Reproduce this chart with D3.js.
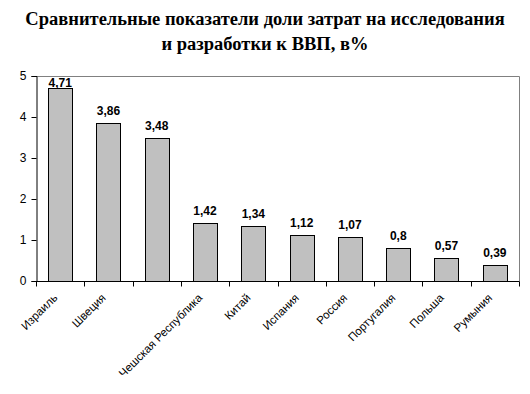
<!DOCTYPE html>
<html>
<head>
<meta charset="utf-8">
<script src="https://cdn.jsdelivr.net/npm/d3@7"></script>
<style>
  body { margin: 0; background: #fff; }
  svg { display: block; }
</style>
</head>
<body>
<div id="chart"></div>
<script>
  "use strict";

  var titleLines = ['Сравнительные показатели доли затрат на исследования', 'и разработки к ВВП, в%'];
  var categories = ['Израиль', 'Швеция', '', 'Чешская Республика', 'Китай', 'Испания', 'Россия', 'Португалия', 'Польша', 'Румыния'];
  var values = [4.71, 3.86, 3.48, 1.42, 1.34, 1.12, 1.07, 0.8, 0.57, 0.39];
  var valueLabels = ['4,71', '3,86', '3,48', '1,42', '1,34', '1,12', '1,07', '0,8', '0,57', '0,39'];
  var yTicks = [0, 1, 2, 3, 4, 5];

  var width = 530, height = 394;
  var margin = {top: 76, right: 11, bottom: 113, left: 36};
  var innerW = width - margin.left - margin.right;
  var innerH = height - margin.top - margin.bottom;

  var svg = d3.select('#chart').append('svg')
    .attr('width', width)
    .attr('height', height);

  // title
  svg.append('g').selectAll('text')
    .data(titleLines)
    .enter().append('text')
    .attr('x', width / 2)
    .attr('y', function(d, i) { return 25 + i * 25; })
    .attr('text-anchor', 'middle')
    .attr('font-family', '"Liberation Serif", "Times New Roman", serif')
    .attr('font-weight', 'bold')
    .attr('font-size', '18.5px')
    .attr('fill', '#000')
    .text(function(d) { return d; });

  var g = svg.append('g')
    .attr('transform', 'translate(' + margin.left + ',' + margin.top + ')');

  var x = d3.scaleBand().domain(d3.range(categories.length)).range([0, innerW]);
  var y = d3.scaleLinear().domain([0, 5]).range([innerH, 0]);

  // plot frame: grey top and right
  g.append('path')
    .attr('d', 'M0,0.5H' + (innerW + 0.5) + 'V' + innerH)
    .attr('fill', 'none')
    .attr('stroke', '#808080')
    .attr('stroke-width', 1);

  // bars
  var bw = x.bandwidth() * 0.5;
  g.selectAll('rect.bar')
    .data(values)
    .enter().append('rect')
    .attr('class', 'bar')
    .attr('x', function(d, i) { return Math.round(x(i) + (x.bandwidth() - bw) / 2) + 0.5; })
    .attr('y', function(d) { return Math.round(y(d)) + 0.5; })
    .attr('width', Math.round(bw))
    .attr('height', function(d) { return Math.round(innerH - y(d)); })
    .attr('fill', '#c0c0c0')
    .attr('stroke', '#000')
    .attr('stroke-width', 1);

  // value labels
  g.selectAll('text.val')
    .data(values)
    .enter().append('text')
    .attr('class', 'val')
    .attr('x', function(d, i) { return x(i) + x.bandwidth() / 2; })
    .attr('y', function(d) { return Math.max(y(d) - 8, 11); })
    .attr('text-anchor', 'middle')
    .attr('font-family', '"Liberation Sans", Arial, sans-serif')
    .attr('font-weight', 'bold')
    .attr('font-size', '12px')
    .attr('fill', '#000')
    .text(function(d, i) { return valueLabels[i]; });

  // y axis
  var yAxis = g.append('g')
    .attr('transform', 'translate(0.5,0)')
    .call(d3.axisLeft(y).tickValues(yTicks).tickSize(5).tickPadding(5).tickFormat(d3.format('d')));
  yAxis.select('.domain').attr('stroke', '#000');
  yAxis.selectAll('text')
    .attr('font-family', '"Liberation Sans", Arial, sans-serif')
    .attr('font-size', '12px')
    .attr('fill', '#000');

  // x axis: ticks at category boundaries
  var boundaries = d3.range(categories.length + 1).map(function(i) { return i * x.step(); });
  var xAxisG = g.append('g')
    .attr('transform', 'translate(0,' + (innerH + 0.5) + ')');
  xAxisG.append('line')
    .attr('x1', 0).attr('x2', innerW + 0.5)
    .attr('stroke', '#000');
  xAxisG.selectAll('line.tick')
    .data(boundaries)
    .enter().append('line')
    .attr('class', 'tick')
    .attr('x1', function(d) { return Math.round(d) + 0.5; })
    .attr('x2', function(d) { return Math.round(d) + 0.5; })
    .attr('y1', 0).attr('y2', 5)
    .attr('stroke', '#000');

  // rotated category labels
  xAxisG.selectAll('text.cat')
    .data(categories)
    .enter().append('text')
    .attr('class', 'cat')
    .attr('transform', function(d, i) {
      return 'translate(' + (x(i) + x.bandwidth() / 2 - 2) + ',17) rotate(-45)';
    })
    .attr('text-anchor', 'end')
    .attr('font-family', '"Liberation Sans", Arial, sans-serif')
    .attr('font-size', '11.5px')
    .attr('fill', '#000')
    .text(function(d) { return d; });
</script>
</body>
</html>
